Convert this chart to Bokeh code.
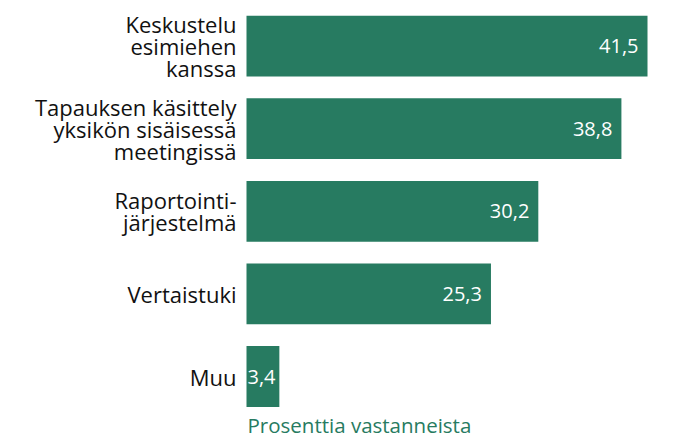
from bokeh.plotting import figure
from bokeh.models import Range1d, ColumnDataSource
from bokeh.core.properties import value
from bokeh.embed import file_html
from bokeh.resources import INLINE

categories = [
    "Keskustelu\nesimiehen\nkanssa",
    "Tapauksen käsittely\nyksikön sisäisessä\nmeetingissä",
    "Raportointi-\njärjestelmä",
    "Vertaistuki",
    "Muu",
]
values = [41.5, 38.8, 30.2, 25.3, 3.4]
value_labels = ["41,5", "38,8", "30,2", "25,3", "3,4"]
axis_title = "Prosenttia vastanneista"

GREEN = "#277b61"
FONT = "Open Sans"

W, H = 687, 441
px_per_unit = 401 / 41.5
x0_px = 246
pitch = 82.6
c0 = 45.6

x_range = Range1d(-x0_px / px_per_unit, (W - x0_px) / px_per_unit)
y_range = Range1d((H - c0) / pitch, -c0 / pitch)

p = figure(width=W, height=H, x_range=x_range, y_range=y_range,
           output_backend="svg", toolbar_location=None,
           min_border=0, min_border_left=0, min_border_right=0,
           min_border_top=0, min_border_bottom=0)
p.xaxis.visible = False
p.yaxis.visible = False
p.xgrid.visible = False
p.ygrid.visible = False
p.outline_line_color = None
p.background_fill_color = "white"
p.border_fill_color = "white"

ypos = list(range(len(values)))
src = ColumnDataSource(dict(y=ypos, v=values, cat=categories, lab=value_labels))

p.hbar(y="y", left=0, right="v", height=60.8 / pitch, source=src,
       fill_color=GREEN, line_color=None)

# category labels
p.text(x=0, y="y", text="cat", source=src, text_align="right",
       text_baseline="middle", x_offset=-10, text_font=value(FONT),
       text_font_size="22px", text_color="#111111", text_line_height=0.73)

# value labels inside bars
inside = ColumnDataSource(dict(
    y=[y for y, v in zip(ypos, values) if v >= 5],
    v=[v for v in values if v >= 5],
    lab=[l for l, v in zip(value_labels, values) if v >= 5]))
small = ColumnDataSource(dict(
    y=[y for y, v in zip(ypos, values) if v < 5],
    v=[0 for v in values if v < 5],
    lab=[l for l, v in zip(value_labels, values) if v < 5]))
p.text(x="v", y="y", text="lab", source=inside, text_align="right",
       text_baseline="middle", x_offset=-9, text_font=value(FONT),
       text_font_size="20px", text_color="white")
p.text(x="v", y="y", text="lab", source=small, text_align="left",
       text_baseline="middle", x_offset=1, text_font=value(FONT),
       text_font_size="20px", text_color="white")

# axis title
p.text(x=[0], y=[y_range.start], text=[axis_title], text_align="left",
       text_baseline="bottom", x_offset=1, y_offset=-3, text_font=value(FONT),
       text_font_size="20.5px", text_color=GREEN)

open("out.html", "w").write(file_html(p, INLINE))
